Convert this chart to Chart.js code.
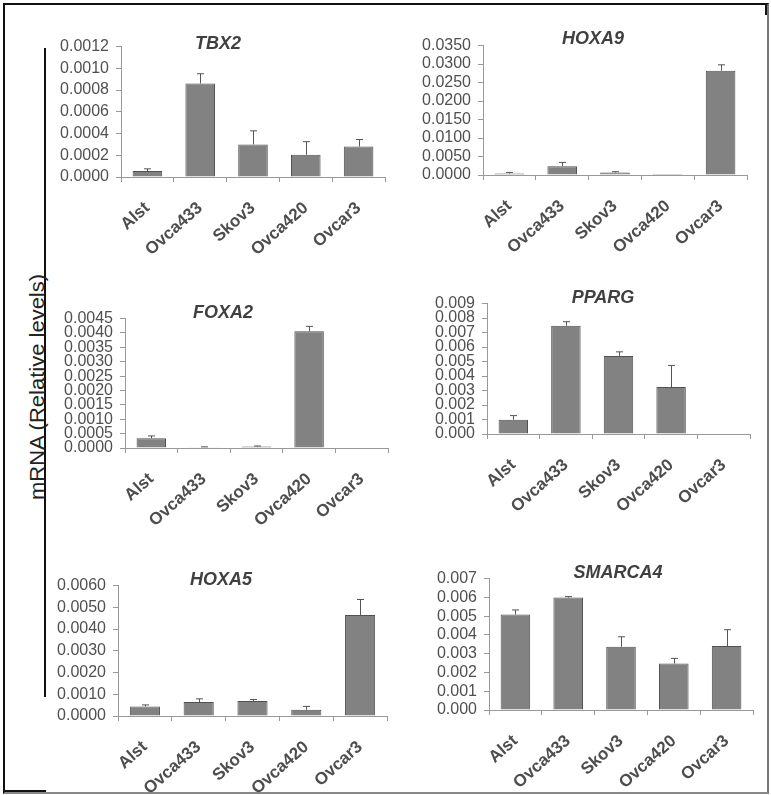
<!DOCTYPE html>
<html>
<head>
<meta charset="utf-8">
<script src="https://cdn.jsdelivr.net/npm/chart.js@4.4.0/dist/chart.umd.min.js"></script>
<style>
    body { margin: 0; background: #fff; }
    #page { position: relative; width: 771px; height: 795px; overflow: hidden; font-family: 'Liberation Sans', Arial, sans-serif; }
    #frame {
        position: absolute; left: 3px; top: 3px; width: 762px; height: 787px;
        border-top: 2px solid #111; border-left: 2px solid #111;
        border-right: 2px solid #777; border-bottom: 2px solid #888;
    }
    #cornerMark { position: absolute; left: 3px; top: 790px; width: 43px; height: 2px; background: #111; }
    #cornerMarkTop { position: absolute; left: 765px; top: 3px; width: 2px; height: 12px; background: #111; }
    #axisLine { position: absolute; left: 44px; top: 48px; width: 2px; height: 649px; background: #111; }
    #yLabel {
        position: absolute; left: 38px; top: 387px; white-space: nowrap;
        font-size: 22px; color: #222;
        transform: translate(-50%, -50%) rotate(-90deg) scaleY(0.88);
    }
    canvas { position: absolute; }
    .gene-title {
        position: absolute; font-size: 18px; font-weight: bold; font-style: italic;
        color: #404040; line-height: 1; white-space: nowrap; transform: translate(-50%, -50%);
    }
</style>
</head>
<body>
<div id="page">
    <div id="frame"></div>
    <div id="cornerMark"></div>
    <div id="cornerMarkTop"></div>
    <div id="axisLine"></div>
    <div id="yLabel">mRNA (Relative levels)</div>
</div>
<script>
// Cell lines (same for every panel)
const cellLines = ['Alst', 'Ovca433', 'Skov3', 'Ovca420', 'Ovcar3'];

// Mean expression and upper error (SD) per gene
const tbx2Values = [0.000055, 0.00086, 0.0003, 0.000205, 0.00028];
const tbx2Errors = [0.00002, 0.00009, 0.000125, 0.00012, 0.000065];

const hoxa9Values = [0.0004, 0.0024, 0.0007, 0.00003, 0.0282];
const hoxa9Errors = [0.0003, 0.001, 0.0002, 0, 0.0016];

const foxa2Values = [0.00034, 0.00003, 0.00005, 0.00406, 0.00002];
const foxa2Errors = [0.00008, 0.00001, 0.00002, 0.00017, 0];

const ppargValues = [0.00099, 0.00747, 0.00539, 0.00324, 0.00004];
const ppargErrors = [0.00028, 0.00028, 0.00028, 0.00149, 0];

const hoxa5Values = [0.00044, 0.00064, 0.00069, 0.00029, 0.00465];
const hoxa5Errors = [0.00007, 0.00015, 0.00007, 0.00015, 0.00071];

const smarca4Values = [0.00509, 0.00599, 0.00337, 0.00248, 0.00341];
const smarca4Errors = [0.00024, 0.00005, 0.00053, 0.00027, 0.00087];

// Y axis ranges (max tick and step) per gene
const tbx2Axis = { max: 0.0012, step: 0.0002, decimals: 4 };
const hoxa9Axis = { max: 0.035, step: 0.005, decimals: 4 };
const foxa2Axis = { max: 0.0045, step: 0.0005, decimals: 4 };
const ppargAxis = { max: 0.009, step: 0.001, decimals: 3 };
const hoxa5Axis = { max: 0.006, step: 0.001, decimals: 4 };
const smarca4Axis = { max: 0.007, step: 0.001, decimals: 3 };

const Y_AXIS_W = 80;
const X_AXIS_H = 90;
const PAD_TOP = 10;
const PAD_RIGHT = 4;

// Draw upward-only error bars with a small cap
const errorBarPlugin = {
    id: 'errorBars',
    afterDatasetsDraw(chart, args, opts) {
        const errs = opts.errors || [];
        const meta = chart.getDatasetMeta(0);
        const yScale = chart.scales.y;
        const values = chart.data.datasets[0].data;
        const ctx = chart.ctx;
        ctx.save();
        ctx.strokeStyle = '#555';
        ctx.lineWidth = 1;
        meta.data.forEach((bar, i) => {
            if (!errs[i]) return;
            const yTop = yScale.getPixelForValue(values[i] + errs[i]);
            const x = Math.round(bar.x) + 0.5;
            ctx.beginPath();
            ctx.moveTo(x, bar.y);
            ctx.lineTo(x, yTop);
            ctx.moveTo(x - 3.5, yTop);
            ctx.lineTo(x + 3.5, yTop);
            ctx.stroke();
        });
        ctx.restore();
    }
};

function createGeneChart(id, title, values, errors, axis, pos) {
    const page = document.getElementById('page');
    const canvas = document.createElement('canvas');
    const plotW = pos.right - pos.axisX;
    const plotH = pos.zero - pos.top;
    canvas.width = Y_AXIS_W + plotW + PAD_RIGHT;
    canvas.height = PAD_TOP + plotH + X_AXIS_H;
    canvas.style.left = (pos.axisX - Y_AXIS_W) + 'px';
    canvas.style.top = (pos.top - PAD_TOP) + 'px';
    canvas.id = id;
    page.appendChild(canvas);

    const label = document.createElement('div');
    label.className = 'gene-title';
    label.textContent = title;
    label.style.left = pos.titleX + 'px';
    label.style.top = pos.titleY + 'px';
    page.appendChild(label);

    return new Chart(canvas.getContext('2d'), {
        type: 'bar',
        data: {
            labels: cellLines,
            datasets: [{
                data: values,
                backgroundColor: '#828282',
                borderColor: '#505050',
                borderWidth: 1,
                barPercentage: 0.56,
                categoryPercentage: 1
            }]
        },
        options: {
            responsive: false,
            animation: false,
            devicePixelRatio: 1,
            layout: { padding: { top: PAD_TOP, right: PAD_RIGHT, left: 0, bottom: 0 } },
            plugins: {
                legend: { display: false },
                tooltip: { enabled: false },
                errorBars: { errors: errors }
            },
            scales: {
                x: {
                    afterFit: (scale) => { scale.height = X_AXIS_H; },
                    border: { color: '#999', width: 1 },
                    grid: { offset: true, drawOnChartArea: false, drawTicks: true, tickLength: 5, color: '#999' },
                    ticks: {
                        color: '#4d4d4d',
                        minRotation: 42,
                        maxRotation: 42,
                        padding: 16,
                        font: { family: "'Liberation Sans', Arial, sans-serif", size: 17, weight: 'bold' }
                    }
                },
                y: {
                    min: 0,
                    max: axis.max,
                    afterFit: (scale) => { scale.width = Y_AXIS_W; },
                    border: { color: '#999', width: 1 },
                    grid: { drawOnChartArea: false, drawTicks: true, tickLength: 5, color: '#999' },
                    ticks: {
                        stepSize: axis.step,
                        autoSkip: false,
                        color: '#505050',
                        padding: 7,
                        font: { family: "'Liberation Sans', Arial, sans-serif", size: 16 },
                        callback: (v) => Number(v).toFixed(axis.decimals)
                    }
                }
            }
        },
        plugins: [errorBarPlugin]
    });
}

createGeneChart('tbx2Chart', 'TBX2', tbx2Values, tbx2Errors, tbx2Axis,
    { axisX: 121, right: 385, top: 40, zero: 177, titleX: 218, titleY: 43 });
createGeneChart('hoxa9Chart', 'HOXA9', hoxa9Values, hoxa9Errors, hoxa9Axis,
    { axisX: 483, right: 747, top: 39, zero: 175, titleX: 593, titleY: 38 });
createGeneChart('foxa2Chart', 'FOXA2', foxa2Values, foxa2Errors, foxa2Axis,
    { axisX: 125, right: 388, top: 312, zero: 448, titleX: 223, titleY: 312 });
createGeneChart('ppargChart', 'PPARG', ppargValues, ppargErrors, ppargAxis,
    { axisX: 487, right: 750, top: 297, zero: 434, titleX: 603, titleY: 297 });
createGeneChart('hoxa5Chart', 'HOXA5', hoxa5Values, hoxa5Errors, hoxa5Axis,
    { axisX: 118, right: 387, top: 579, zero: 716, titleX: 221, titleY: 579 });
createGeneChart('smarca4Chart', 'SMARCA4', smarca4Values, smarca4Errors, smarca4Axis,
    { axisX: 489, right: 753, top: 572, zero: 710, titleX: 618, titleY: 572 });
</script>
</body>
</html>
